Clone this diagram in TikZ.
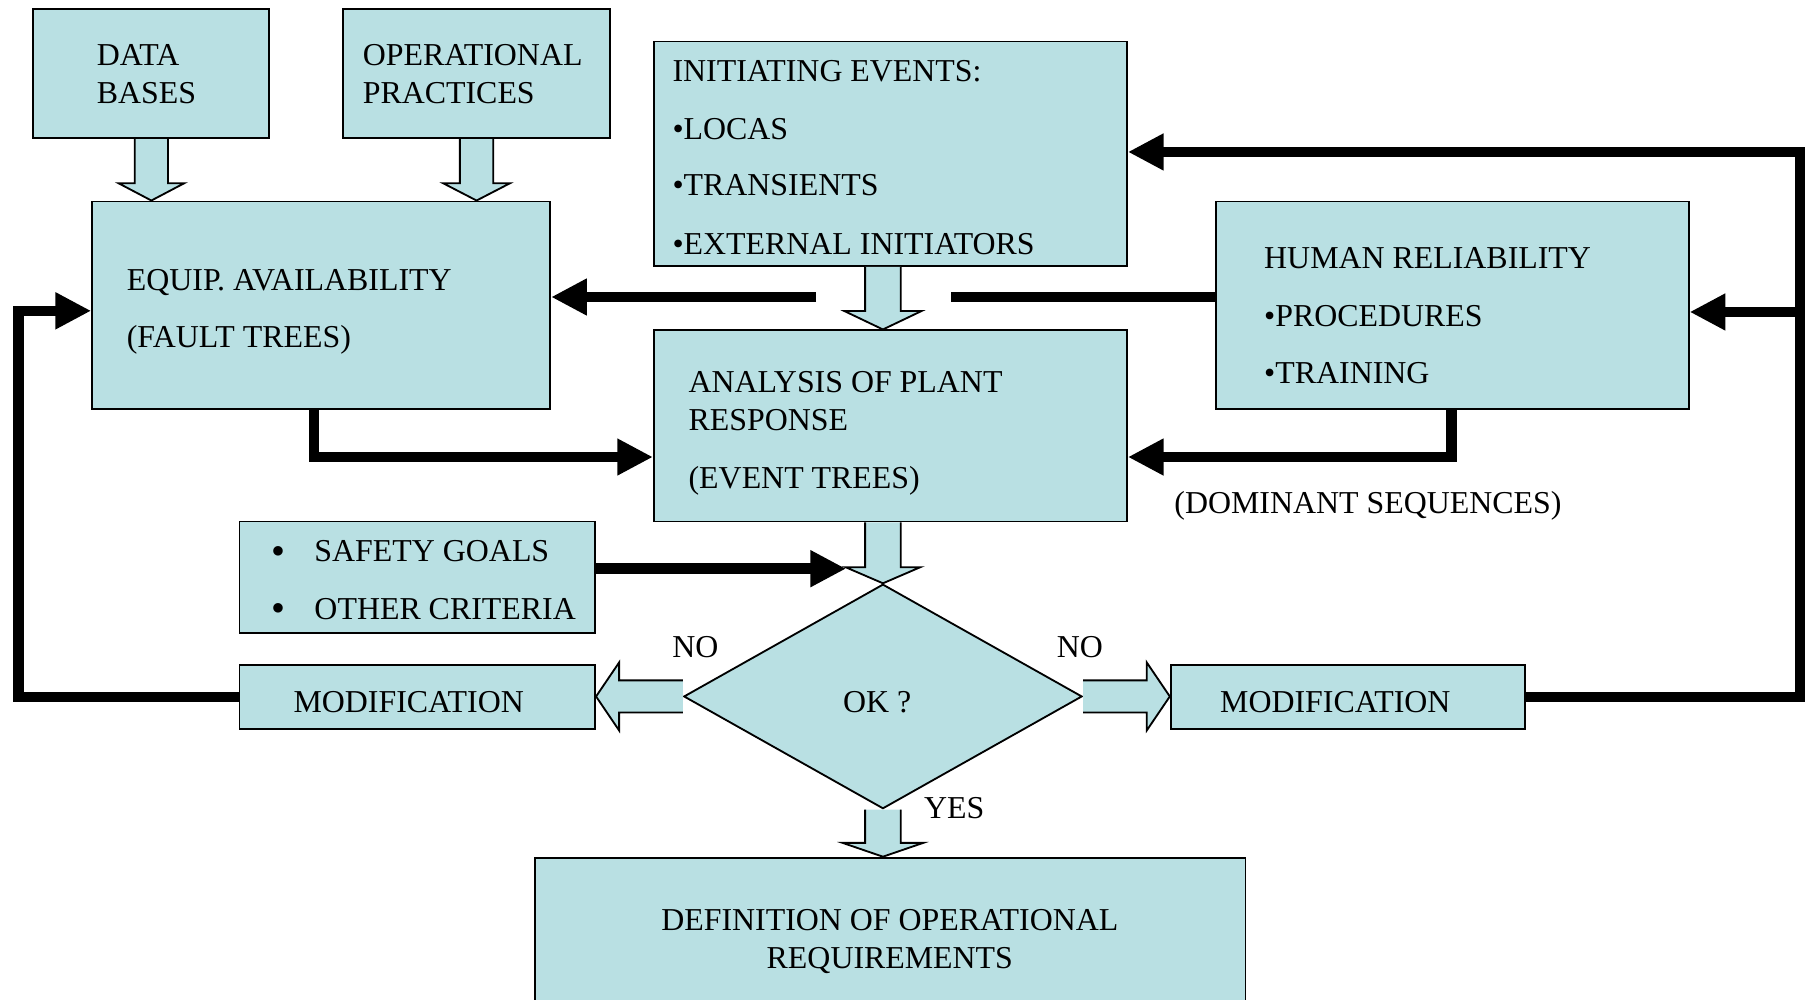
\documentclass[tikz,border=0pt]{standalone}
\usepackage{fontspec}
\setmainfont{Liberation Serif}
\usetikzlibrary{arrows.meta,shapes.geometric,calc}
\definecolor{boxfill}{RGB}{185,224,227}
\tikzset{
  box/.style={draw=black, line width=1.6pt, fill=boxfill, inner sep=0pt},
  txt/.style={font=\fontsize{27.7}{33}\selectfont, inner sep=0pt, anchor=base west},
  ctxt/.style={font=\fontsize{27.7}{33}\selectfont, inner sep=0pt, anchor=base},
  plainline/.style={line width=9pt},
  conn/.style={line width=9pt, -{Triangle[length=31pt,width=30pt]}},
  barrow/.style={draw=black, line width=1.6pt, fill=boxfill, line join=miter}
}
% vertical block arrow pointing down: #1 start, #2 tip, #3 shaft half, #4 head half, #5 head length
\newcommand{\bdown}[5]{%
  \draw[barrow] let \p1=#1, \p2=#2 in
    (\x1-#3,\y1) -- (\x1-#3,\y2+#5) -- (\x1-#4,\y2+#5) -- (\x1,\y2)
    -- (\x1+#4,\y2+#5) -- (\x1+#3,\y2+#5) -- (\x1+#3,\y1);}
% horizontal block arrow pointing left
\newcommand{\bleft}[5]{%
  \draw[barrow] let \p1=#1, \p2=#2 in
    (\x1,\y1+#3) -- (\x2+#5,\y1+#3) -- (\x2+#5,\y1+#4) -- (\x2,\y1)
    -- (\x2+#5,\y1-#4) -- (\x2+#5,\y1-#3) -- (\x1,\y1-#3);}
% horizontal block arrow pointing right
\newcommand{\bright}[5]{%
  \draw[barrow] let \p1=#1, \p2=#2 in
    (\x1,\y1+#3) -- (\x2-#5,\y1+#3) -- (\x2-#5,\y1+#4) -- (\x2,\y1)
    -- (\x2-#5,\y1-#4) -- (\x2-#5,\y1-#3) -- (\x1,\y1-#3);}
\begin{document}
\begin{tikzpicture}[x=1pt,y=-1pt]
\useasboundingbox (0,0) rectangle (1568,868);

% boxes
\node[box, minimum width=205pt, minimum height=112pt] (data) at (131.5,64) {};
\node[box, minimum width=232pt, minimum height=112pt] (op) at (414,64) {};
\node[box, minimum width=411pt, minimum height=195pt] (init) at (773.5,133.5) {};
\node[box, minimum width=398pt, minimum height=180pt] (equip) at (279,265) {};
\node[box, minimum width=411pt, minimum height=180pt] (human) at (1261.5,265) {};
\node[box, minimum width=411pt, minimum height=166pt] (analysis) at (773.5,370) {};
\node[box, minimum width=309pt, minimum height=97pt] (safety) at (362.5,501.5) {};
\node[box, minimum width=309pt, minimum height=55pt] (modL) at (362.5,605.5) {};
\node[box, minimum width=308pt, minimum height=55pt] (modR) at (1171,605.5) {};
\node[box, minimum width=617pt, minimum height=140pt] (def) at (773.5,815) {};
\node[box, diamond, minimum width=346pt, minimum height=195pt, aspect=1.77] (diam) at (767,605) {};

% block arrows
\bdown{(data.south)}{(data.south |- equip.north)}{14.5pt}{28.5pt}{15pt}
\bdown{(op.south)}{(op.south |- equip.north)}{14.5pt}{29pt}{15pt}
\bdown{(diam.north |- init.south)}{(diam.north |- analysis.north)}{15.5pt}{33.5pt}{16pt}
\bdown{(diam.north |- analysis.south)}{(diam.north)}{15.5pt}{32.5pt}{14pt}
\bdown{(diam.south)}{(diam.south |- def.north)}{15.5pt}{35pt}{12pt}
\bleft{(diam.west)}{(modL.east)}{14pt}{29.5pt}{20pt}
\bright{(diam.east)}{(modR.west)}{14pt}{29.5pt}{20pt}

% helper coordinates
\coordinate (rt) at (1564,132);
\coordinate (rm) at (1564,271);
\coordinate (lt) at (16,270);
\coordinate (lb) at (16,605);
\coordinate (gapR) at (826,258);
\coordinate (gapL) at (709,258);
\coordinate (eb) at (273,397);
\coordinate (hb) at (1261,397);
\coordinate (st) at (735,494);

% connectors
\draw[conn] (modR.east) -- (rt |- modR.east) -- (rt) -- (init.east |- rt);
\draw[conn] (rm) -- (human.east |- rm);
\draw[conn] (modL.west) -- (lb |- modL.west) -- (lt) -- (equip.west |- lt);
\draw[plainline] (human.west |- gapR) -- (gapR);
\draw[conn] (gapL) -- (equip.east |- gapL);
\draw[conn] (equip.south -| eb) -- (eb) -- (analysis.west |- eb);
\draw[conn] (human.south -| hb) -- (hb) -- (analysis.east |- hb);
\draw[conn] (safety.east |- st) -- (st);

% texts
\node[txt] (t1) at (84,57) {DATA};
\node[txt] (t2) at (84,90) {BASES};
\node[txt] (t3) at (315,57) {OPERATIONAL};
\node[txt] (t4) at (315,90) {PRACTICES};
\node[txt] (t5) at (584,71) {INITIATING EVENTS:};
\node[txt] (t6) at (584,121) {•LOCAS};
\node[txt] (t7) at (584,170) {•TRANSIENTS};
\node[txt] (t8) at (584,221) {•EXTERNAL INITIATORS};
\node[txt] (t9) at (110,252) {EQUIP. AVAILABILITY};
\node[txt] (t10) at (110,302) {(FAULT TREES)};
\node[txt] (t11) at (1098,233) {HUMAN RELIABILITY};
\node[txt] (t12) at (1098,284) {•PROCEDURES};
\node[txt] (t13) at (1098,333) {•TRAINING};
\node[txt] (t14) at (598,341) {ANALYSIS OF PLANT};
\node[txt] (t15) at (598,374) {RESPONSE};
\node[txt] (t16) at (598,424) {(EVENT TREES)};
\node[txt] (t17) at (1020,446) {(DOMINANT SEQUENCES)};
\node[txt, scale=1.25] (b1) at (236,490) {•};
\node[txt] (t18) at (273,488) {SAFETY GOALS};
\node[txt, scale=1.25] (b2) at (236,540) {•};
\node[txt] (t19) at (273,538) {OTHER CRITERIA};
\node[ctxt] (t20) at (355,619) {MODIFICATION};
\node[ctxt] (t21) at (1160,619) {MODIFICATION};
\node[ctxt] (ok) at (762,619) {OK ?};
\node[ctxt] (t22) at (604,571) {NO};
\node[ctxt] (t23) at (938,571) {NO};
\node[ctxt] (t24) at (829,711) {YES};
\node[ctxt] (t25) at (773,808) {DEFINITION OF OPERATIONAL};
\node[ctxt] (t26) at (773,841) {REQUIREMENTS};
\end{tikzpicture}
\end{document}
